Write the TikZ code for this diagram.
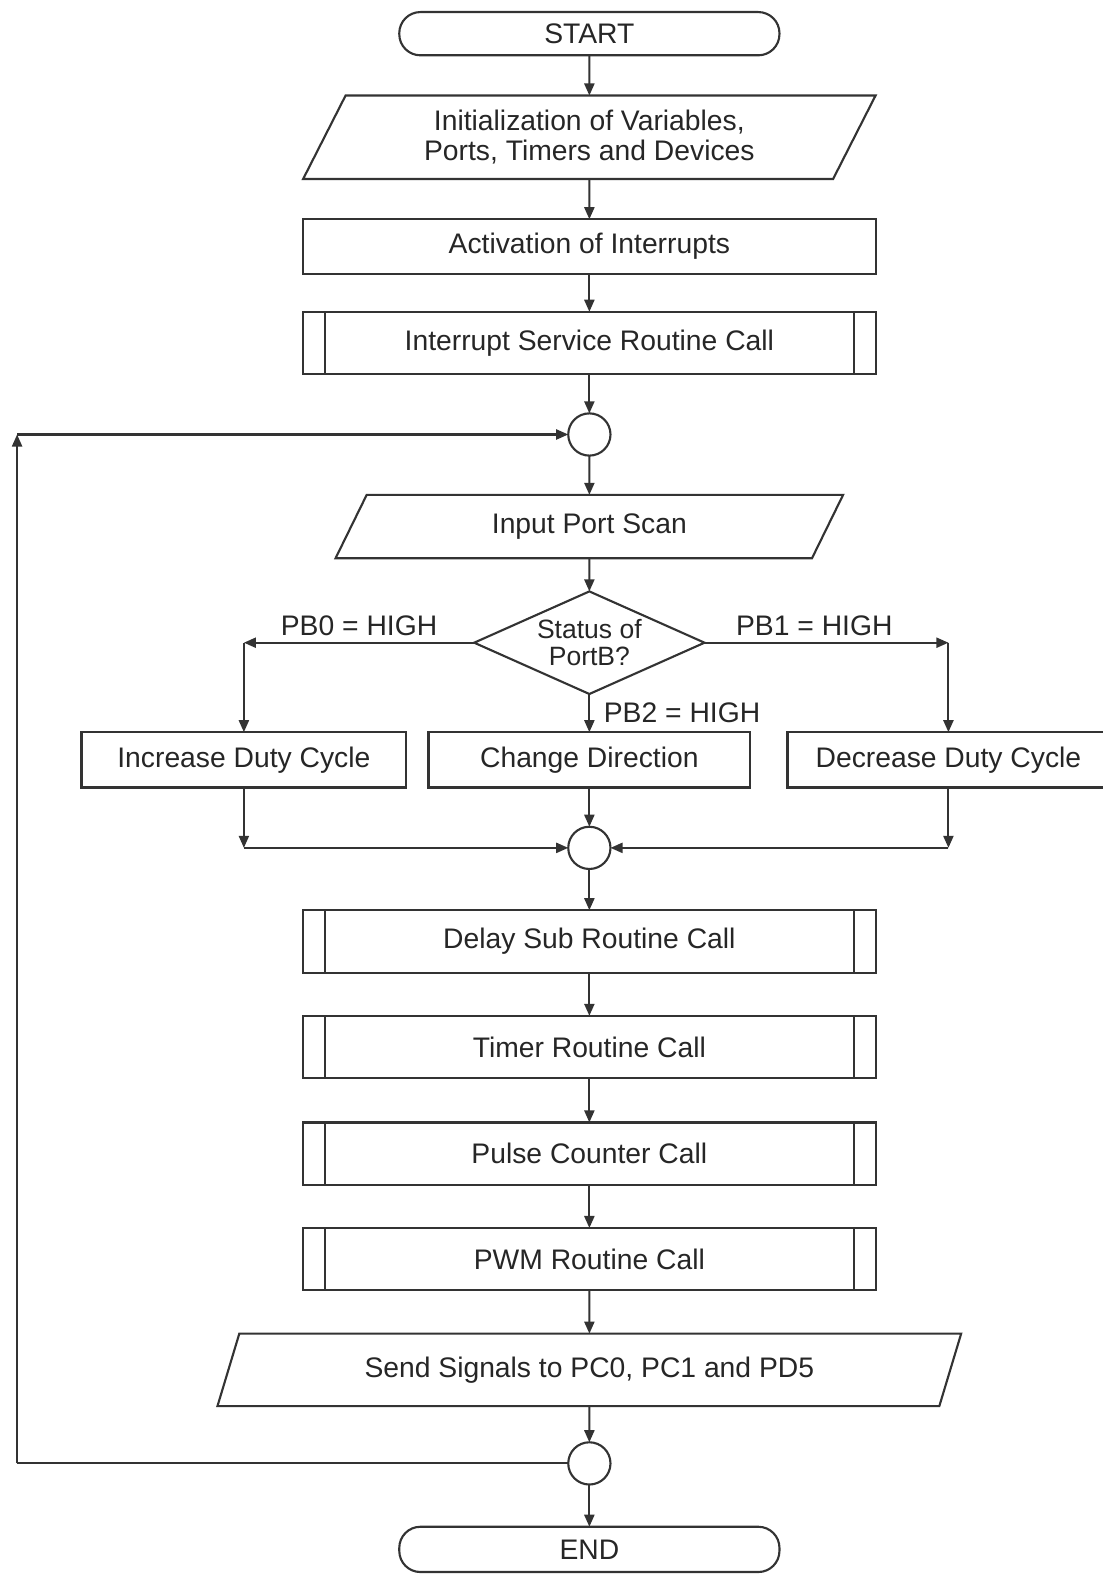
\documentclass[tikz,border=0pt]{standalone}
\usepackage{fontspec}
\setmainfont{Liberation Sans}
\usetikzlibrary{arrows.meta, positioning, shapes.geometric}

\begin{document}
\begin{tikzpicture}[node distance=0.8cm,
  every node/.style={text=black!85, font=\fontsize{16}{17}\selectfont},
  base/.style={draw=black!80, line width=1.2pt, align=center, inner sep=0pt, outer sep=0pt},
  term/.style={base, rectangle, rounded corners=4.2mm, minimum width=7.56cm, minimum height=0.86cm},
  io/.style={base, trapezium, trapezium left angle=62, trapezium right angle=118, trapezium stretches=true},
  proc/.style={base, rectangle, minimum width=11.4cm, minimum height=1.08cm},
  subproc/.style={base, rectangle, minimum width=11.4cm, minimum height=1.24cm,
    path picture={\draw[line width=1.2pt, draw=black!80]
      ([xshift=4.4mm]path picture bounding box.north west) -- ([xshift=4.4mm]path picture bounding box.south west)
      ([xshift=-4.4mm]path picture bounding box.north east) -- ([xshift=-4.4mm]path picture bounding box.south east);}},
  junc/.style={base, circle, minimum size=0.84cm},
  cond/.style={base, diamond, aspect=2.25, minimum width=4.58cm, minimum height=2.04cm, font=\fontsize{15}{15.5}\selectfont},
  arr/.style={draw=black!80, line width=1.2pt, -{Triangle[length=2.4mm,width=2mm]}},
  wire/.style={draw=black!80, line width=1.2pt}
]
\useasboundingbox (0,0) rectangle (21.92,-31.36);

\node[term] (start) at (11.72,-0.67) {START};
\node[io, below=of start, minimum width=11.4cm, minimum height=1.66cm] (init) {Initialization of Variables,\\Ports, Timers and Devices};
\node[proc, below=of init] (act) {Activation of Interrupts};
\node[subproc, below=0.76cm of act] (isr) {Interrupt Service Routine Call};
\node[junc, below=0.78cm of isr] (c1) {};
\node[io, below=0.78cm of c1, minimum width=10.1cm, minimum height=1.26cm] (scan) {Input Port Scan};
\node[cond, below=0.66cm of scan] (status) {Status of\\PortB?};
\node[proc, below=0.76cm of status, minimum width=6.4cm, minimum height=1.1cm] (dir) {Change Direction};
\node[proc, left=0.44cm of dir, minimum width=6.46cm, minimum height=1.1cm] (inc) {Increase Duty Cycle};
\node[proc, right=0.74cm of dir, minimum width=6.4cm, minimum height=1.1cm] (dec) {Decrease Duty Cycle};
\node[junc, below=0.78cm of dir] (c2) {};
\node[subproc, below=0.82cm of c2] (delay) {Delay Sub Routine Call};
\node[subproc, below=0.86cm of delay] (timer) {Timer Routine Call};
\node[subproc, below=0.88cm of timer] (pulse) {Pulse Counter Call};
\node[subproc, below=0.86cm of pulse] (pwm) {PWM Routine Call};
\node[io, below=0.86cm of pwm, minimum width=14.82cm, minimum height=1.44cm] (send) {Send Signals to PC0, PC1 and PD5};
\node[junc, below=0.72cm of send] (c3) {};
\node[term, below=0.84cm of c3, minimum height=0.9cm] (stop) {END};

\coordinate (pb0) at (status.west -| inc.north);
\coordinate (pb1) at (status.east -| dec.north);
\coordinate (m0) at (c2 -| inc.south);
\coordinate (m1) at (c2 -| dec.south);
\coordinate (lx) at (0.34,0);
\coordinate (lb) at (c3 -| lx);
\coordinate (lt) at (c1 -| lx);

\draw[arr] (start) -- (init);
\draw[arr] (init) -- (act);
\draw[arr] (act) -- (isr);
\draw[arr] (isr) -- (c1);
\draw[arr] (c1) -- (scan);
\draw[arr] (scan) -- (status);
\draw[arr] (status.west) -- node[above] {PB0 = HIGH} (pb0);
\draw[arr] (pb0) -- (inc);
\draw[arr] (status.east) -- node[above, pos=0.45] {PB1 = HIGH} (pb1);
\draw[arr] (pb1) -- (dec);
\draw[arr] (status) -- node[right, xshift=1.5mm] {PB2 = HIGH} (dir);
\draw[arr] (inc) -- (m0);
\draw[arr] (m0) -- (c2);
\draw[arr] (dec) -- (m1);
\draw[arr] (m1) -- (c2);
\draw[arr] (dir) -- (c2);
\draw[arr] (c2) -- (delay);
\draw[arr] (delay) -- (timer);
\draw[arr] (timer) -- (pulse);
\draw[arr] (pulse) -- (pwm);
\draw[arr] (pwm) -- (send);
\draw[arr] (send) -- (c3);
\draw[arr] (c3) -- (stop);
\draw[wire] (c3) -- (lb);
\draw[arr] (lb) -- (lt);
\draw[arr] (lt) -- (c1);
\end{tikzpicture}
\end{document}
